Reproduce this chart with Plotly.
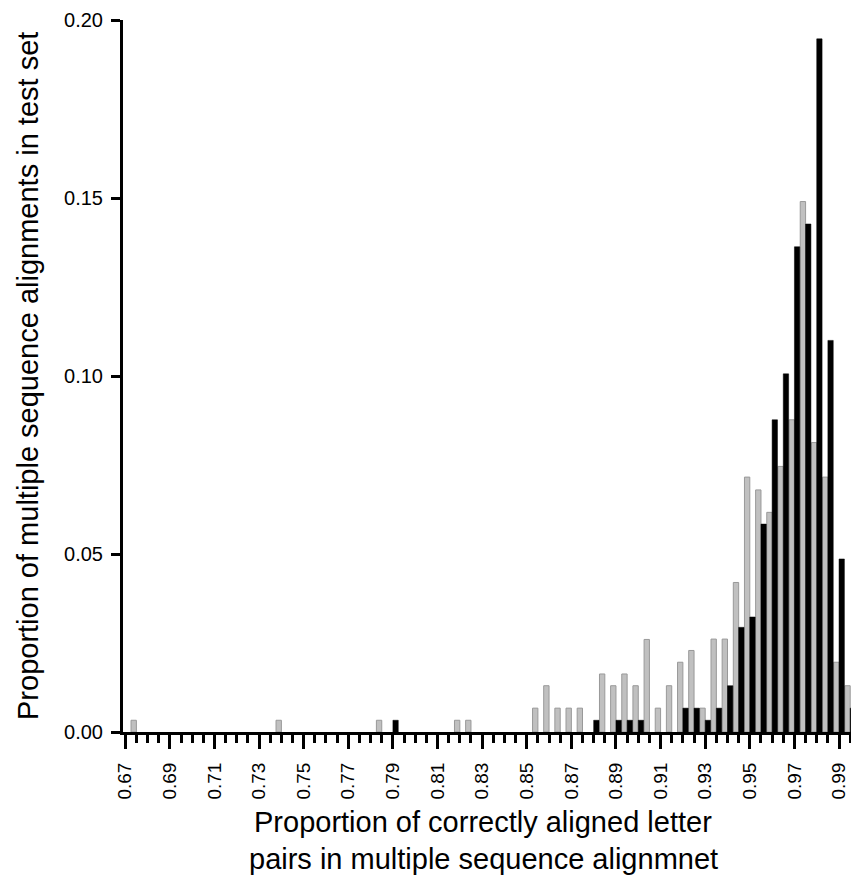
import plotly.graph_objects as go

# Bin centres (proportion of correctly aligned pairs) and proportions per method
grey_x = [0.675, 0.74, 0.785, 0.82, 0.825, 0.855, 0.86, 0.865, 0.87, 0.875,
          0.885, 0.89, 0.895, 0.90, 0.905, 0.91, 0.915, 0.92, 0.925, 0.93,
          0.935, 0.94, 0.945, 0.95, 0.955, 0.96, 0.965, 0.97, 0.975, 0.98,
          0.985, 0.99, 0.995]
grey_y = [0.0033, 0.0033, 0.0033, 0.0033, 0.0033, 0.0067, 0.013, 0.0067, 0.0067, 0.0067,
          0.0163, 0.013, 0.0163, 0.013, 0.026, 0.0067, 0.013, 0.0196, 0.0229, 0.0067,
          0.0261, 0.0261, 0.042, 0.0716, 0.068, 0.0617, 0.0746, 0.0877, 0.149, 0.0813,
          0.0716, 0.0196, 0.013]

black_x = [0.79, 0.88, 0.89, 0.895, 0.90, 0.92, 0.925, 0.93, 0.935, 0.94,
           0.945, 0.95, 0.955, 0.96, 0.965, 0.97, 0.975, 0.98, 0.985, 0.99, 0.995]
black_y = [0.0033, 0.0033, 0.0033, 0.0033, 0.0033, 0.0067, 0.0067, 0.0033, 0.0067, 0.013,
           0.0294, 0.0323, 0.0584, 0.0877, 0.1006, 0.1363, 0.1427, 0.1947, 0.110, 0.0486, 0.0067]

x_tick_vals = [0.67, 0.69, 0.71, 0.73, 0.75, 0.77, 0.79, 0.81, 0.83, 0.85, 0.87,
               0.89, 0.91, 0.93, 0.95, 0.97, 0.99]
x_tick_text = ["0.67", "0.69", "0.71", "0.73", "0.75", "0.77", "0.79", "0.81", "0.83",
               "0.85", "0.87", "0.89", "0.91", "0.93", "0.95", "0.97", "0.99"]
x_minor_vals = [round(0.67 + 0.005 * i, 3) for i in range(66)]
y_tick_vals = [0.0, 0.05, 0.10, 0.15, 0.20]
y_tick_text = ["0.00", "0.05", "0.10", "0.15", "0.20"]

FONT = "Liberation Sans, Arial, sans-serif"

# the page body has an 8px default margin; compensate so the plot lands where the reference is
PW, PH = 735, 712  # plot area size in px
BOTTOM = 732       # page y of the x axis

fig = go.Figure()
fig.add_trace(go.Bar(x=grey_x, y=grey_y, name="grey",
                     marker=dict(color="#c0c0c0", line=dict(color="#999999", width=1))))
fig.add_trace(go.Bar(x=black_x, y=black_y, name="black",
                     marker=dict(color="#000000", line=dict(color="#000000", width=0.5))))

fig.update_layout(
    width=851, height=875,
    margin=dict(l=115, r=1, t=12, b=151, pad=0),
    paper_bgcolor="white", plot_bgcolor="white",
    barmode="group", bargap=0.04, bargroupgap=0.0,
    showlegend=False,
    font=dict(family=FONT, color="black"),
)
fig.update_xaxes(
    range=[0.669, 0.9985], automargin=False,
    showline=True, linecolor="black", linewidth=3,
    showgrid=False, zeroline=False,
    tickmode="array", tickvals=x_tick_vals, ticktext=x_tick_text,
    ticks="outside", ticklen=14, tickwidth=3, tickcolor="black",
    ticklabelstandoff=6, ticklabeloverflow="allow",
    tickangle=-90, tickfont=dict(size=19, family=FONT, color="black"),
    minor=dict(tickmode="array", tickvals=x_minor_vals, ticks="outside",
               ticklen=8, tickwidth=3, tickcolor="black"),
)
fig.update_yaxes(
    range=[0, 0.2], automargin=False,
    showline=True, linecolor="black", linewidth=3,
    showgrid=False, zeroline=False,
    tickmode="array", tickvals=y_tick_vals, ticktext=y_tick_text,
    ticks="outside", ticklen=9, tickwidth=3, tickcolor="black",
    ticklabelstandoff=4, ticklabeloverflow="allow",
    tickfont=dict(size=20, family=FONT, color="black"),
)

fig.add_annotation(text="Proportion of multiple sequence alignments in test set",
                   xref="paper", yref="paper", x=-95 / PW, y=0.5,
                   xanchor="center", yanchor="middle", textangle=-90, showarrow=False,
                   font=dict(size=29, family=FONT, color="black"))
fig.add_annotation(text="Proportion of correctly aligned letter",
                   xref="paper", yref="paper", x=(483 - 123) / PW, y=-(822 - BOTTOM) / PH,
                   xanchor="center", yanchor="middle", showarrow=False,
                   font=dict(size=29, family=FONT, color="black"))
fig.add_annotation(text="pairs in multiple sequence alignmnet",
                   xref="paper", yref="paper", x=(483 - 123) / PW, y=-(859 - BOTTOM) / PH,
                   xanchor="center", yanchor="middle", showarrow=False,
                   font=dict(size=29, family=FONT, color="black"))

fig.write_html("out.html")
